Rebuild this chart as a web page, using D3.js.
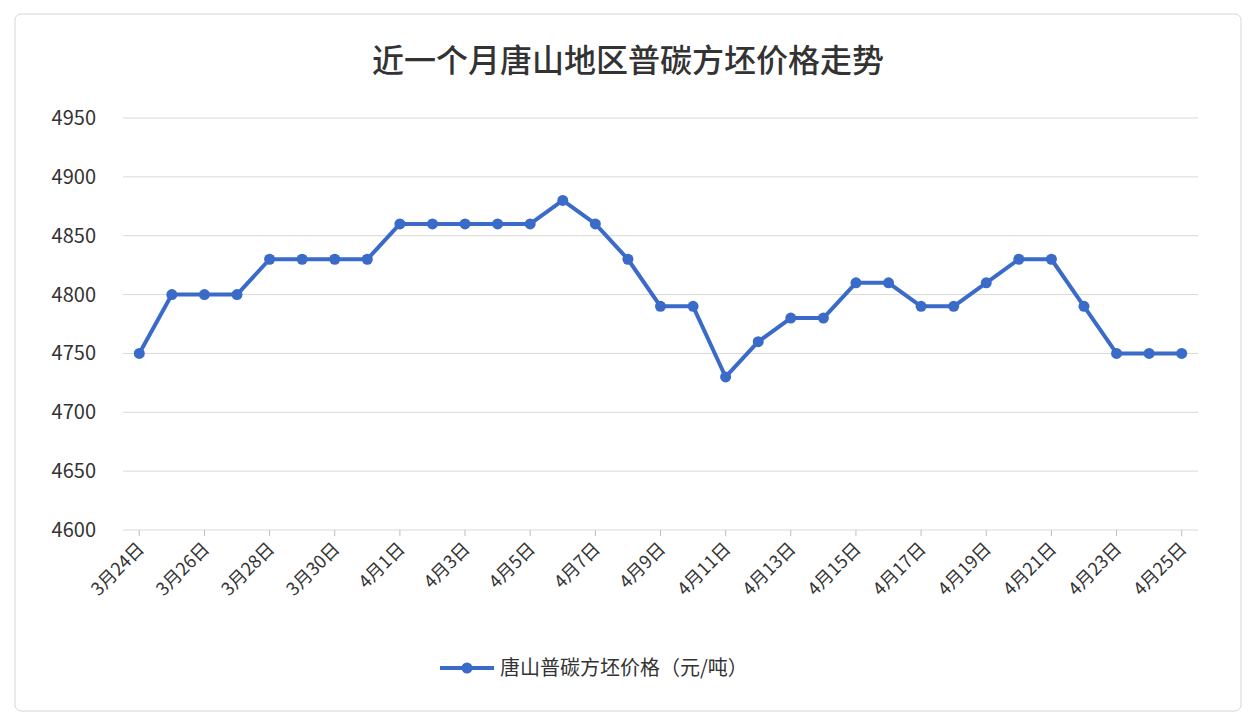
<!DOCTYPE html>
<html><head><meta charset="utf-8">
<script src="https://d3js.org/d3.v7.min.js"></script>
<style>body{margin:0;background:#fff;font-family:"Noto Sans CJK SC","Noto Sans",sans-serif}</style>
</head><body>
<script>
var dates = [];
for (var d = 24; d <= 31; d++) dates.push("3月" + d + "日");
for (var d = 1; d <= 25; d++) dates.push("4月" + d + "日");
var prices = [4750,4800,4800,4800,4830,4830,4830,4830,4860,4860,4860,4860,4860,4880,4860,4830,4790,4790,4730,4760,4780,4780,4810,4810,4790,4790,4810,4830,4830,4790,4750,4750,4750];
var yTicks = [4600,4650,4700,4750,4800,4850,4900,4950];
var title = "近一个月唐山地区普碳方坯价格走势";
var seriesName = "唐山普碳方坯价格（元/吨）";

var W = 1256, H = 724, plotL = 123, plotR = 1198, plotT = 118, plotB = 530;
var color = "#3a6bc9";
var svg = d3.select("body").append("svg").attr("width", W).attr("height", H);
svg.append("rect").attr("x", 15).attr("y", 14).attr("width", 1226).attr("height", 697)
  .attr("rx", 6).attr("fill", "#fff").attr("stroke", "#d6d6d6");

var x = d3.scaleBand().domain(dates).range([plotL, plotR]);
var y = d3.scaleLinear().domain([4600, 4950]).range([plotB, plotT]);

svg.append("g").selectAll("line").data(yTicks).enter().append("line")
  .attr("x1", plotL).attr("x2", plotR)
  .attr("y1", function(d) { return y(d); }).attr("y2", function(d) { return y(d); })
  .attr("stroke", "#d9d9d9");

svg.append("g").selectAll("text").data(yTicks).enter().append("text")
  .attr("x", 96).attr("y", function(d) { return y(d) + 7; })
  .attr("text-anchor", "end").attr("font-size", 20).attr("fill", "#333")
  .text(function(d) { return d; });

var labelled = dates.filter(function(d, i) { return i % 2 == 0; });
var xb = svg.append("g");
xb.selectAll("line").data(labelled).enter().append("line")
  .attr("x1", function(d) { return x(d) + x.bandwidth()/2; })
  .attr("x2", function(d) { return x(d) + x.bandwidth()/2; })
  .attr("y1", plotB).attr("y2", plotB + 6).attr("stroke", "#bfbfbf");

xb.selectAll("text").data(labelled).enter().append("text")
  .attr("transform", function(d) { return "translate(" + (x(d) + x.bandwidth()/2 + 6) + "," + (plotB + 20) + ") rotate(-45)"; })
  .attr("text-anchor", "end").attr("font-size", 18).attr("fill", "#333")
  .text(function(d) { return d; });

var line = d3.line()
  .x(function(d, i) { return x(dates[i]) + x.bandwidth()/2; })
  .y(function(d) { return y(d); });
svg.append("path").datum(prices).attr("d", line)
  .attr("fill", "none").attr("stroke", color).attr("stroke-width", 4).attr("stroke-linejoin", "round");
svg.append("g").selectAll("circle").data(prices).enter().append("circle")
  .attr("cx", function(d, i) { return x(dates[i]) + x.bandwidth()/2; })
  .attr("cy", function(d) { return y(d); })
  .attr("r", 5.5).attr("fill", color);

svg.append("text").attr("x", W/2).attr("y", 72).attr("text-anchor", "middle")
  .attr("font-size", 32).attr("font-weight", 500).attr("fill", "#333").text(title);

svg.append("line").attr("x1", 440).attr("x2", 494).attr("y1", 668).attr("y2", 668)
  .attr("stroke", color).attr("stroke-width", 4);
svg.append("circle").attr("cx", 467).attr("cy", 668).attr("r", 5.5).attr("fill", color);
svg.append("text").attr("x", 500).attr("y", 675).attr("font-size", 20).attr("fill", "#333").text(seriesName);
</script>
</body></html>
